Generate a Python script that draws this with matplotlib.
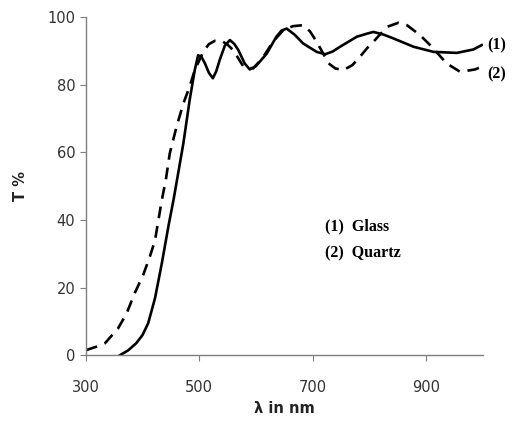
import numpy as np
import matplotlib.pyplot as plt

# Glass (1), solid
glass_nm = [360, 375, 389, 400, 410, 422, 434, 446, 455, 463, 472, 483, 492, 498,
            504, 510, 517, 524, 530, 536, 545, 554, 562, 569, 580, 589, 600, 619,
            636, 645, 654, 668, 683, 707, 722, 735, 748, 778, 798, 807, 825, 842,
            878, 913, 954, 983, 998]
glass_t = [0, 1.5, 3.6, 6, 9.5, 16.9, 27.2, 38.5, 46.3, 54, 62.7, 75.4, 84.3, 88.7,
           88.2, 86.3, 83.5, 81.9, 84, 87.3, 91.5, 93.2, 92, 90.2, 86.3, 84.5, 85.5, 89.2,
           94.2, 96, 96.6, 94.8, 92.2, 89.7, 89, 89.8, 91.2, 94.2, 95.2, 95.6, 94.8, 93.7,
           91.2, 89.7, 89.4, 90.4, 91.7]

# Quartz (2), dashed
quartz_nm = [300, 318, 334, 357, 372, 386, 401, 413, 422, 428, 434, 441, 448, 460,
             472, 483, 492, 507, 517, 528, 539, 550, 560, 578, 595, 612, 630, 648,
             665, 683, 695, 707, 728, 740, 754, 770, 783, 798, 807, 831, 851, 866,
             889, 910, 936, 960, 986, 995]
quartz_t = [1.5, 2.5, 3.6, 8, 12.4, 18.3, 23.7, 29.2, 34, 40, 45.9, 51.8, 59.7, 67.6,
            74.5, 79.4, 84.3, 89.7, 92, 93, 93, 91.8, 90.2, 85.3, 84.8, 88, 92.7, 96.1,
            97.3, 97.6, 95.8, 92.7, 86.3, 84.8, 84.3, 85.8, 88.2, 91.2, 92.7, 97.1, 98.3, 97.6,
            94.7, 91.2, 86.3, 83.8, 84.5, 85.1]

xticks = [300, 500, 700, 900]
yticks = [0, 20, 40, 60, 80, 100]

fig = plt.figure(figsize=(5.17, 4.26), dpi=100)
ax = fig.add_axes([0.166, 0.166, 0.768, 0.794])

ax.plot(glass_nm, glass_t, color='black', lw=1.9, solid_joinstyle='round')
ax.plot(quartz_nm, quartz_t, color='black', lw=1.9, dashes=(4.5, 3))

ax.set_xlim(300, 1000)
ax.set_ylim(0, 100)
ax.set_xticks(xticks)
ax.set_yticks(yticks)
for s in ['top', 'right']:
    ax.spines[s].set_visible(False)
for s in ['left', 'bottom']:
    ax.spines[s].set_color('#7f7f7f')
    ax.spines[s].set_linewidth(1.0)
ax.tick_params(colors='#7f7f7f', labelcolor='#333333', labelsize=10.5,
               direction='out', length=4)
ax.tick_params(axis='x', pad=14)

ax.set_xlabel('λ in nm', fontweight='bold', fontsize=10.5, color='#222222')
ax.set_ylabel('T %', fontweight='bold', fontsize=10.5, color='#222222', labelpad=14)

serif = dict(family='Liberation Serif', fontweight='bold', fontsize=11.5)
ax.text(1007, 91.5, '(1)', va='center', ha='left', clip_on=False, **serif)
ax.text(1007, 83, '(2)', va='center', ha='left', clip_on=False, **serif)
ax.text(722, 38, '(1)  Glass', va='center', ha='left', **serif)
ax.text(722, 30, '(2)  Quartz', va='center', ha='left', **serif)

fig.savefig('out.png', dpi=100)
